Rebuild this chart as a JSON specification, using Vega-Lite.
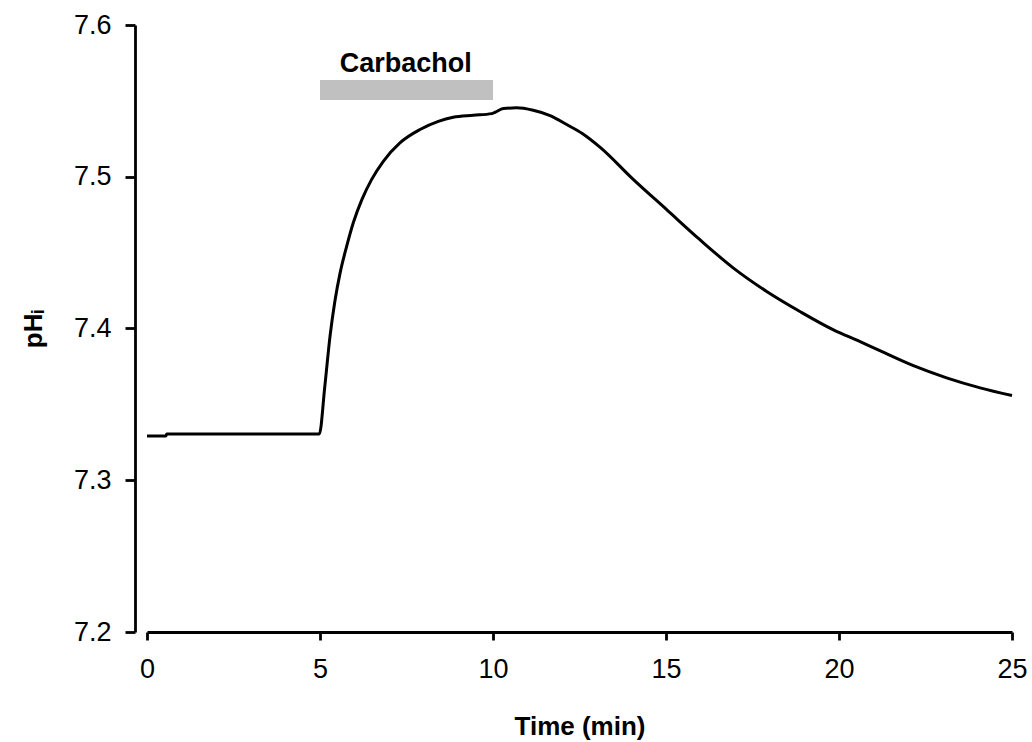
{
  "$schema": "https://vega.github.io/schema/vega-lite/v6.json",
  "width": 865,
  "height": 607,
  "autosize": {"type": "none"},
  "padding": {"left": 147, "top": 25, "right": 20, "bottom": 110},
  "background": "white",
  "config": {
    "view": {"stroke": null},
    "font": "Liberation Sans",
    "axis": {
      "grid": false,
      "domainColor": "black",
      "tickColor": "black",
      "labelColor": "black",
      "titleColor": "black",
      "domainWidth": 2.8,
      "tickWidth": 2.8,
      "labelFlush": false,
      "labelFont": "Liberation Sans",
      "titleFont": "Liberation Sans",
      "labelFontSize": 27,
      "titleFontSize": 26,
      "titleFontWeight": "bold"
    }
  },
  "datasets": {
    "trace": [
      {"t": 0.0, "ph": 7.3292},
      {"t": 0.55, "ph": 7.3292},
      {"t": 0.57, "ph": 7.3305},
      {"t": 2.5, "ph": 7.3305},
      {"t": 4.98, "ph": 7.3305},
      {"t": 5.14, "ph": 7.362},
      {"t": 5.29, "ph": 7.395},
      {"t": 5.43, "ph": 7.418},
      {"t": 5.58, "ph": 7.4365},
      {"t": 5.77, "ph": 7.4541},
      {"t": 5.96, "ph": 7.4695},
      {"t": 6.21, "ph": 7.4849},
      {"t": 6.49, "ph": 7.4981},
      {"t": 6.83, "ph": 7.5102},
      {"t": 7.31, "ph": 7.5223},
      {"t": 7.89, "ph": 7.5311},
      {"t": 8.42, "ph": 7.5365},
      {"t": 8.85, "ph": 7.5392},
      {"t": 9.43, "ph": 7.5405},
      {"t": 9.96, "ph": 7.5416},
      {"t": 10.06, "ph": 7.5425},
      {"t": 10.3, "ph": 7.5449},
      {"t": 10.68, "ph": 7.5454},
      {"t": 11.16, "ph": 7.5438},
      {"t": 11.65, "ph": 7.5403},
      {"t": 12.13, "ph": 7.5344},
      {"t": 12.58, "ph": 7.5285},
      {"t": 13.09, "ph": 7.5195},
      {"t": 14.06, "ph": 7.4981},
      {"t": 15.02, "ph": 7.4783},
      {"t": 15.98, "ph": 7.4585},
      {"t": 16.95, "ph": 7.4398},
      {"t": 17.91, "ph": 7.4244},
      {"t": 18.87, "ph": 7.4112},
      {"t": 19.84, "ph": 7.3991},
      {"t": 20.61, "ph": 7.3914},
      {"t": 21.18, "ph": 7.3854},
      {"t": 22.15, "ph": 7.3755},
      {"t": 23.11, "ph": 7.3675},
      {"t": 24.08, "ph": 7.3609},
      {"t": 25.0, "ph": 7.3558}
    ],
    "bar": [
      {"start": 5, "end": 10, "low": 7.5506, "high": 7.5638, "mid": 7.48, "labely": 7.5693, "label": "Carbachol"}
    ]
  },
  "layer": [
    {
      "data": {"name": "bar"},
      "mark": {"type": "rect", "color": "#c0c0c0"},
      "encoding": {
        "x": {"field": "start", "type": "quantitative", "scale": {"domain": [0, 25], "nice": false, "zero": false}},
        "x2": {"field": "end"},
        "y": {"field": "low", "type": "quantitative", "scale": {"domain": [7.2, 7.6], "nice": false, "zero": false}},
        "y2": {"field": "high"}
      }
    },
    {
      "data": {"name": "bar"},
      "mark": {"type": "text", "font": "Liberation Sans", "fontSize": 27, "fontWeight": "bold", "color": "black", "baseline": "alphabetic", "align": "center"},
      "encoding": {
        "x": {"field": "mid", "type": "quantitative"},
        "y": {"field": "labely", "type": "quantitative"},
        "text": {"field": "label"}
      }
    },
    {
      "data": {"name": "trace"},
      "mark": {"type": "line", "color": "black", "strokeWidth": 3, "interpolate": "monotone"},
      "encoding": {
        "x": {
          "field": "t", "type": "quantitative",
          "scale": {"domain": [0, 25], "nice": false, "zero": false},
          "axis": {"title": "Time (min)", "values": [0, 5, 10, 15, 20, 25], "tickSize": 8, "labelPadding": 16, "titleY": 102, "titleBaseline": "alphabetic"}
        },
        "y": {
          "field": "ph", "type": "quantitative",
          "scale": {"domain": [7.2, 7.6], "nice": false, "zero": false},
          "axis": {"title": "pHᵢ", "values": [7.2, 7.3, 7.4, 7.5, 7.6], "format": ".1f", "offset": 12, "tickSize": 10, "labelPadding": 14, "titleX": -102, "titleBaseline": "middle"}
        }
      }
    }
  ]
}
